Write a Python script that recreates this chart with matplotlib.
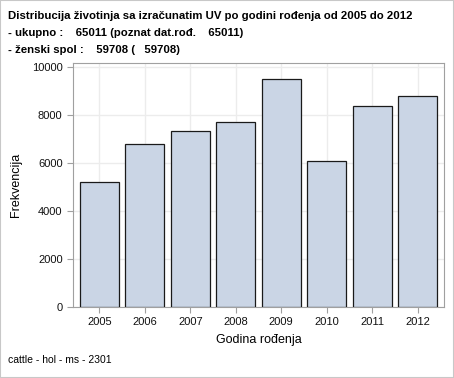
import matplotlib
matplotlib.use("Agg")
import matplotlib.pyplot as plt
from matplotlib.patches import Rectangle

years = ["2005", "2006", "2007", "2008", "2009", "2010", "2011", "2012"]
counts = [5200, 6790, 7330, 7700, 9490, 6080, 8370, 8780]
yticks = [0, 2000, 4000, 6000, 8000, 10000]
title_lines = [
    "Distribucija životinja sa izračunatim UV po godini rođenja od 2005 do 2012",
    "- ukupno :    65011 (poznat dat.rođ.    65011)",
    "- ženski spol :    59708 (   59708)",
]
footnote = "cattle - hol - ms - 2301"

plt.rcParams['font.family'] = ['Liberation Sans', 'DejaVu Sans']

W, H = 454, 378
fig = plt.figure(figsize=(W / 100, H / 100), dpi=100)
fig.patch.set_facecolor("white")
fig.patches.append(Rectangle((0, 0), 1, 1, transform=fig.transFigure, fill=False,
                             edgecolor="#c8c8c8", linewidth=1.5))

left, right, top, bottom = 73, 444, 63, 307
ax = fig.add_axes([left / W, 1 - bottom / H, (right - left) / W, (bottom - top) / H])

x = list(range(len(years)))
ax.bar(x, counts, width=0.86, color="#CAD5E5", edgecolor="#1a1a1a", linewidth=0.9, zorder=3)
ax.set_xlim(-0.58, len(years) - 0.42)
ax.set_ylim(0, 10170)
ax.set_yticks(yticks)
ax.set_yticklabels([str(v) for v in yticks], fontsize=8)
ax.set_xticks(x)
ax.set_xticklabels(years, fontsize=8)
ax.grid(True, color="#ececec", linewidth=1, zorder=0)
for s in ax.spines.values():
    s.set_color("#a0a0a0")
ax.tick_params(color="#a0a0a0", length=4, labelcolor="#111111")
ax.set_ylabel("Frekvencija", fontsize=9, labelpad=7)
ax.set_xlabel("Godina rođenja", fontsize=9, labelpad=5)

ys = [16, 33, 50]
for t, yy in zip(title_lines, ys):
    fig.text(8 / W, 1 - yy / H, t, fontsize=8.2, fontweight="bold", va="center", ha="left")
fig.text(8 / W, 1 - 360 / H, footnote, fontsize=7.5, va="center", ha="left")

fig.savefig("out.png", dpi=100)
